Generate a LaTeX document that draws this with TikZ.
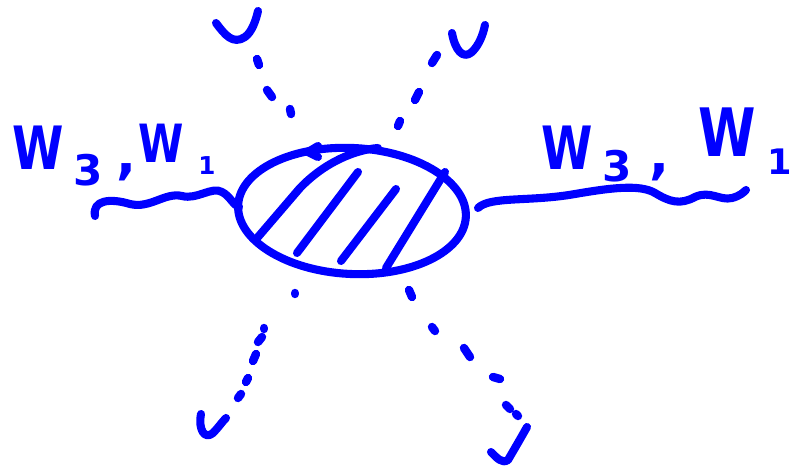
\documentclass[tikz,border=0pt]{standalone}
\usepackage{fontspec}
\usepackage{graphicx}
\setmainfont{DejaVu Sans}
\newcommand{\narrowW}{\scalebox{0.78}[1]{W}}
\begin{document}
\begin{tikzpicture}[x=0.02cm,y=-0.02cm,
  pen/.style={draw=blue, line width=4.6pt, line cap=round, line join=round},
  dotpen/.style={draw=blue, line width=4.8pt, line cap=round},
  lbl/.style={text=blue, inner sep=0pt}]
\useasboundingbox (0,0) rectangle (799,466);
% blob
\coordinate (blob) at (352,211);
\draw[pen, rotate around={-3:(blob)}] (blob) ellipse [x radius=114, y radius=63];
% hatching
\draw[pen] (258,237) -- (300,188) .. controls (325,162) and (355,150) .. (378,148);
\draw[pen] (297,253) -- (358,172);
\draw[pen] (341,261) -- (396,189);
\draw[pen] (386,268) -- (445,172);
\draw[pen] (308,152) -- (318,146) (308,152) -- (318,157);
% wavy lines
\coordinate (wl0) at (95,216);
\coordinate (wl1) at (239,207);
\draw[pen] (wl0) .. controls (92,200) and (110,198) .. (130,204)
  .. controls (150,209) and (165,192) .. (182,196)
  .. controls (197,200) and (212,186) .. (222,192)
  .. controls (230,196) and (233,205) .. (wl1);
\coordinate (wr0) at (478,208);
\coordinate (wr1) at (746,190);
\draw[pen] (wr0) .. controls (490,196) and (530,202) .. (575,194)
  .. controls (610,188) and (640,184) .. (655,193)
  .. controls (670,202) and (680,205) .. (695,197)
  .. controls (710,190) and (720,201) .. (732,198)
  .. controls (740,196) and (744,192) .. (wr1);
% v marks
\draw[pen] (216,23) .. controls (225,35) and (233,45) .. (245,37) .. controls (252,32) and (256,20) .. (258,11);
\draw[pen] (452,33) .. controls (455,50) and (463,60) .. (472,52) .. controls (479,45) and (483,35) .. (485,25);
\draw[pen] (201,414) .. controls (198,430) and (205,440) .. (213,433) .. controls (218,428) and (222,422) .. (226,418);
\draw[pen] (491,452) .. controls (497,458) and (502,464) .. (508,460) .. controls (515,448) and (522,436) .. (527,427);
% dotted legs
\draw[dotpen] (257,59) -- (259,65);
\draw[dotpen] (267,90) -- (272,97);
\draw[dotpen] (290,109) -- (291,114);
\draw[dotpen] (437,55) -- (432,63);
\draw[dotpen] (419,92) -- (415,100);
\draw[dotpen] (400,121) -- (398,126);
\draw[dotpen] (295,293) -- (295,294);
\draw[dotpen] (264,328) -- (264,329);
\draw[dotpen] (262,337) -- (258,342);
\draw[dotpen] (256,354) -- (253,361);
\draw[dotpen] (248,378) -- (246,382);
\draw[dotpen] (241,394) -- (238,398);
\draw[dotpen] (409,290) -- (412,297);
\draw[dotpen] (432,327) -- (435,331);
\draw[dotpen] (464,348) -- (470,357);
\draw[dotpen] (493,377) -- (500,379);
\draw[dotpen] (506,405) -- (510,409);
\draw[dotpen] (516,414) -- (518,416);
% labels left
\node[lbl, font=\bfseries\fontsize{34}{34}\selectfont] (l1) at (38,148) {\narrowW};
\node[lbl, font=\bfseries\fontsize{24}{24}\selectfont] (l2) at (88,170) {3};
\node[lbl, font=\bfseries\fontsize{30}{30}\selectfont] (l3) at (127,172) {,};
\node[lbl, font=\bfseries\fontsize{30}{30}\selectfont] (l4) at (161,143) {\narrowW};
\node[lbl, font=\bfseries\fontsize{14}{14}\selectfont] (l5) at (207,166) {1};
% labels right
\node[lbl, font=\bfseries\fontsize{34}{34}\selectfont] (r1) at (567,148) {\narrowW};
\node[lbl, font=\bfseries\fontsize{24}{24}\selectfont] (r2) at (617,166) {3};
\node[lbl, font=\bfseries\fontsize{30}{30}\selectfont] (r3) at (660,172) {,};
\node[lbl, font=\bfseries\fontsize{38}{38}\selectfont] (r4) at (727,132) {\narrowW};
\node[lbl, font=\bfseries\fontsize{20}{20}\selectfont] (r5) at (780,162) {1};
\end{tikzpicture}
\end{document}
